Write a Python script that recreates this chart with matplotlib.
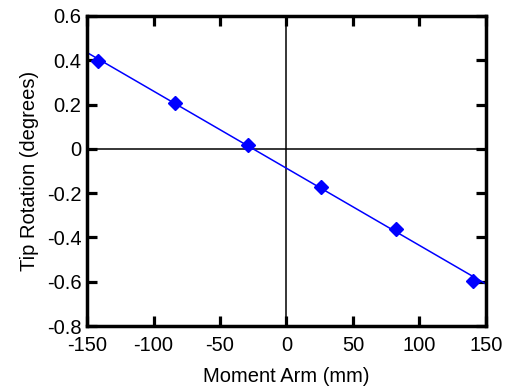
import matplotlib
matplotlib.use('Agg')
import matplotlib.pyplot as plt
from matplotlib.ticker import FuncFormatter

plt.rcParams['font.family'] = ['Liberation Sans', 'DejaVu Sans']
plt.rcParams['axes.unicode_minus'] = False

# ── data ────────────────────────────────────────────────────────────
moment_arm = [-141.5, -83.5, -29.0, 26.0, 82.5, 140.0]
tip_rotation = [0.398, 0.207, 0.016, -0.173, -0.364, -0.595]
fit_x = [-150, 150]
fit_y = [0.435, -0.610]

x_ticks = [-150, -100, -50, 0, 50, 100, 150]
y_ticks = [-0.8, -0.6, -0.4, -0.2, 0, 0.2, 0.4, 0.6]

fig = plt.figure(figsize=(5.12, 3.9), dpi=100, facecolor='white')
ax = fig.add_axes([0.170, 0.164, 0.779, 0.795])

ax.axhline(0, color='black', lw=1.1, zorder=1)
ax.axvline(0, color='black', lw=1.1, zorder=1)

ax.plot(fit_x, fit_y, color='#0000FF', lw=1.1, zorder=2)
ax.plot(moment_arm, tip_rotation, ls='none', marker='D', ms=7,
        color='#0000FF', zorder=3, clip_on=False)

ax.set_xlim(-150, 150)
ax.set_ylim(-0.8, 0.6)
ax.set_xticks(x_ticks)
ax.set_yticks(y_ticks)
ax.xaxis.set_major_formatter(FuncFormatter(lambda v, p: f'{v:g}'))
ax.yaxis.set_major_formatter(FuncFormatter(lambda v, p: f'{v:g}'))

ax.tick_params(direction='in', length=7, width=2.3, labelsize=14.5,
               top=True, right=True)
ax.tick_params(axis='x', pad=7)
ax.tick_params(axis='y', pad=4)
for spine in ax.spines.values():
    spine.set_linewidth(2.5)

ax.set_xlabel('Moment Arm (mm)', fontsize=14.5, labelpad=9)
ax.set_ylabel('Tip Rotation (degrees)', fontsize=14.5, labelpad=6)

fig.savefig('out.png', dpi=100, facecolor='white')
